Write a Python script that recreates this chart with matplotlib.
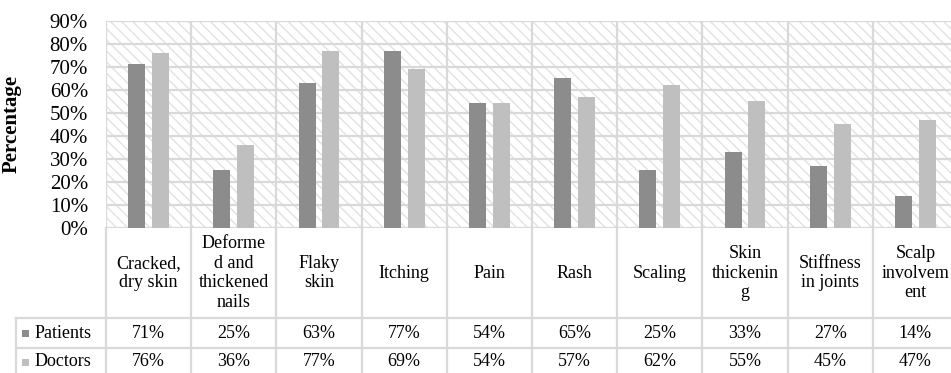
import matplotlib
matplotlib.use("Agg")
from matplotlib import pyplot as plt
from matplotlib.transforms import blended_transform_factory

plt.rcParams['font.family'] = ['Liberation Serif', 'DejaVu Serif']
plt.rcParams['hatch.linewidth'] = 1.0

symptoms = ["Cracked,\ndry skin", "Deforme\nd and\nthickened\nnails", "Flaky\nskin", "Itching",
            "Pain", "Rash", "Scaling", "Skin\nthickenin\ng", "Stiffness\nin joints", "Scalp\ninvolvem\nent"]
patients = [71, 25, 63, 77, 54, 65, 25, 33, 27, 14]
doctors = [76, 36, 77, 69, 54, 57, 62, 55, 45, 47]
yticks = [0, 10, 20, 30, 40, 50, 60, 70, 80, 90]

W, H = 951, 373
fig = plt.figure(figsize=(W / 100, H / 100), dpi=100)

# plot area in pixels (extends past the right edge, last column is cut off)
left, right, top, bottom = 106, 958, 20.7, 227.7
ax = fig.add_axes([left / W, 1 - bottom / H, (right - left) / W, (bottom - top) / H])

grid_c = '#d9d9d9'
n = len(symptoms)
ax.set_xlim(0, n)
ax.set_ylim(0, 90)

# hatched background
ax.add_patch(plt.Rectangle((0, 0), n, 90, facecolor='white', edgecolor='#e2e2e2', lw=0,
                           hatch='\\\\\\', zorder=0))

x = list(range(n))
ax.bar([i + 0.5 - 0.14 for i in x], patients, width=0.2, color='#8c8c8c', zorder=3)
ax.bar([i + 0.5 + 0.14 for i in x], doctors, width=0.2, color='#bfbfbf', zorder=3)

for v in yticks:
    ax.axhline(v, color=grid_c, lw=1.6, zorder=1)
for i in range(n + 1):
    ax.axvline(i, color=grid_c, lw=1.6, zorder=1)

for s in ax.spines.values():
    s.set_visible(False)
ax.set_xticks([])
ax.set_yticks(yticks)
ax.set_yticklabels(["{}%".format(v) for v in yticks], fontsize=15)
ax.tick_params(axis='y', length=0, pad=13)
ax.set_ylabel("Percentage", fontsize=15, fontweight='bold')
ax.yaxis.set_label_coords(-(left - 22) / (right - left), 0.5)

# data table below the plot
tr = blended_transform_factory(ax.transData, fig.transFigure)
def fy(py):
    return 1 - py / H

row1, row2 = 318, 347.5
for i in range(n + 1):
    ax.plot([i, i], [fy(bottom), fy(H + 5)], transform=tr, color=grid_c, lw=1.6, clip_on=False)
xl = -(left - 16) / ((right - left) / n)
for yy in [row1, row2]:
    ax.plot([xl, n], [fy(yy), fy(yy)], transform=tr, color=grid_c, lw=1.6, clip_on=False)
ax.plot([xl, xl], [fy(row1), fy(H + 5)], transform=tr, color=grid_c, lw=1.6, clip_on=False)

for i, lab in enumerate(symptoms):
    ax.text(i + 0.5, fy(273), lab, transform=tr, ha='center', va='center', fontsize=13,
            linespacing=1.2, clip_on=False)
    ax.text(i + 0.5, fy(333), "{}%".format(patients[i]), transform=tr, ha='center', va='center',
            fontsize=13, clip_on=False)
    ax.text(i + 0.5, fy(362), "{}%".format(doctors[i]), transform=tr, ha='center', va='center',
            fontsize=13, clip_on=False)

for name, col, yy in [("Patients", '#8c8c8c', 333), ("Doctors", '#bfbfbf', 362)]:
    fig.patches.append(plt.Rectangle((22 / W, fy(yy + 3.5)), 7 / W, 7 / H, facecolor=col,
                                     edgecolor='none', transform=fig.transFigure))
    fig.text(35 / W, fy(yy), name, ha='left', va='center', fontsize=13,
             family=['Liberation Serif', 'DejaVu Serif'])

fig.savefig("out.png", dpi=100)
